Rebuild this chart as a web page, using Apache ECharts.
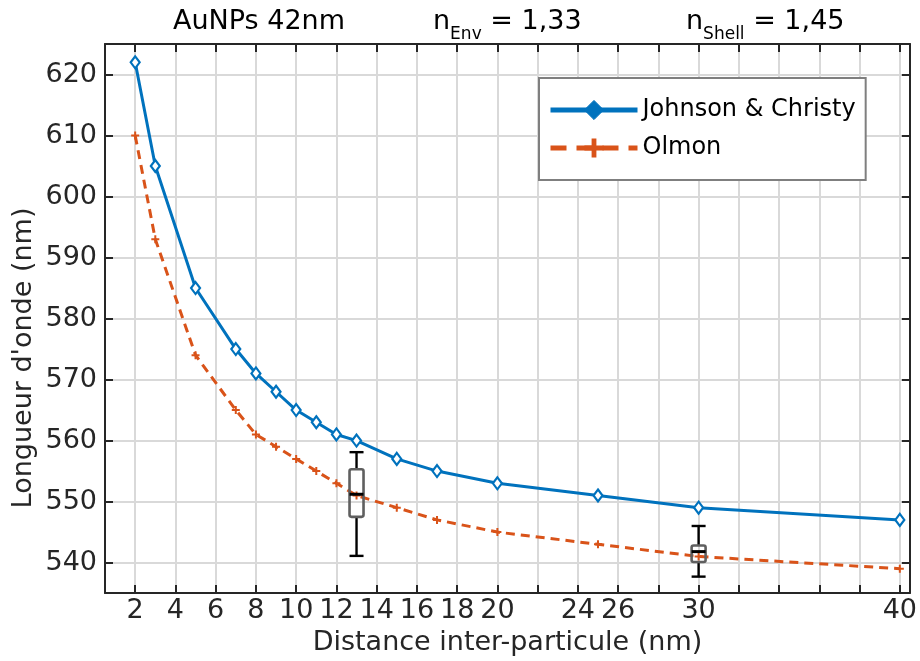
<!DOCTYPE html>
<html><head><meta charset="utf-8">
<script src="https://cdn.jsdelivr.net/npm/echarts@6/dist/echarts.min.js"></script>
<style>html,body{margin:0;padding:0;background:#fff}#c{width:920px;height:661px}</style>
</head><body><div id="c"></div>
<script>
// ---- data ----
const distances = [2, 3, 5, 7, 8, 9, 10, 11, 12, 13, 15, 17, 20, 25, 30, 40];
const johnsonChristy = [622, 605, 585, 575, 571, 568, 565, 563, 561, 560, 557, 555, 553, 551, 549, 547];
const olmon = [610, 593, 574, 565, 561, 559, 557, 555, 553, 551, 549, 547, 545, 543, 541, 539];
const boxX = [13, 30];
const boxMin = [541.1, 537.7];
const boxQ1 = [547.5, 540.1];
const boxMedian = [551.2, 541.8];
const boxQ3 = [555.3, 542.8];
const boxMax = [558.1, 546.0];
const xTicks = [2, 4, 6, 8, 10, 12, 14, 16, 18, 20, 22, 24, 26, 28, 30, 32, 34, 36, 38, 40];
const xTickLabels = [2, 4, 6, 8, 10, 12, 14, 16, 18, 20, 24, 26, 30, 40];
const yTicks = [540, 550, 560, 570, 580, 590, 600, 610, 620];
const seriesNames = ['Johnson & Christy', 'Olmon'];

const FONT = 'DejaVu Sans';
const TXT = '#262626';
const AX = '#262626';
const GRIDC = '#d9d9d9';
const BLUE = '#0072BD';
const ORANGE = '#D95319';

const jcData = distances.map((d, i) => [d, johnsonChristy[i]]);
const olData = distances.map((d, i) => [d, olmon[i]]);
const boxData = boxX.map((x, i) => [x, boxMin[i], boxQ1[i], boxMedian[i], boxQ3[i], boxMax[i]]);

const chart = echarts.init(document.getElementById('c'), null, {renderer: 'canvas'});

const xBase = {
  type: 'value', min: 0.5, max: 40.5,
  axisLine: {show: true, onZero: false, lineStyle: {color: AX, width: 2}},
  axisTick: {show: true, inside: true, length: 8, customValues: xTicks, lineStyle: {color: AX, width: 2}},
};
const yBase = {
  type: 'value', min: 535, max: 625,
  axisLine: {show: true, onZero: false, lineStyle: {color: AX, width: 2}},
  axisTick: {show: true, inside: true, length: 8, customValues: yTicks, lineStyle: {color: AX, width: 2}},
};

const option = {
  animation: false,
  backgroundColor: '#fff',
  textStyle: {fontFamily: FONT},
  grid: {left: 105, right: 7, top: 44, bottom: 66, containLabel: false},
  xAxis: [
    Object.assign({}, xBase, {
      position: 'bottom',
      name: 'Distance inter-particule (nm)', nameLocation: 'middle', nameGap: 31,
      nameTextStyle: {fontFamily: FONT, fontSize: 27, color: TXT},
      axisLabel: {show: true, customValues: xTickLabels, margin: 4, fontFamily: FONT, fontSize: 27, color: TXT},
      splitLine: {show: true, lineStyle: {color: GRIDC, width: 2}}
    }),
    Object.assign({}, xBase, {
      position: 'top',
      axisLabel: {show: false},
      splitLine: {show: false}
    })
  ],
  yAxis: [
    Object.assign({}, yBase, {
      position: 'left',
      axisLabel: {show: true, customValues: yTicks, margin: 8, fontFamily: FONT, fontSize: 27, color: TXT},
      splitLine: {show: true, lineStyle: {color: GRIDC, width: 2}}
    }),
    Object.assign({}, yBase, {
      position: 'right',
      axisLabel: {show: false},
      splitLine: {show: false}
    })
  ],
  legend: {
    orient: 'vertical', left: 539, top: 78,
    backgroundColor: '#fff', borderColor: '#7f7f7f', borderWidth: 2,
    padding: [20, 10, 20, 9],
    itemWidth: 87, itemHeight: 24, itemGap: 14,
    textStyle: {fontFamily: FONT, fontSize: 24, color: '#000'},
    lineStyle: {width: 5},
    data: [
      {name: seriesNames[0], itemStyle: {color: BLUE, borderColor: BLUE, borderWidth: 1}},
      {name: seriesNames[1], lineStyle: {type: [16, 10], width: 5}}
    ]
  },
  graphic: [
    {type: 'text', left: 173, top: 8, style: {text: 'AuNPs 42nm', fontFamily: FONT, fontSize: 27, fill: '#000'}},
    {type: 'text', left: 433, top: 8, style: {
      text: '{m|n}{s|Env}{m| = 1,33}', fontFamily: FONT, fill: '#000',
      rich: {m: {fontSize: 27, fontFamily: FONT, verticalAlign: 'top', lineHeight: 35, fill: '#000'},
             s: {fontSize: 17, fontFamily: FONT, verticalAlign: 'bottom', lineHeight: 20, fill: '#000'}}
    }},
    {type: 'text', left: 686, top: 8, style: {
      text: '{m|n}{s|Shell}{m| = 1,45}', fontFamily: FONT, fill: '#000',
      rich: {m: {fontSize: 27, fontFamily: FONT, verticalAlign: 'top', lineHeight: 35, fill: '#000'},
             s: {fontSize: 17, fontFamily: FONT, verticalAlign: 'bottom', lineHeight: 20, fill: '#000'}}
    }},
    {type: 'text', x: 24, y: 358, rotation: Math.PI / 2, style: {
      text: "Longueur d'onde (nm)", fontFamily: FONT, fontSize: 27, fill: TXT, align: 'center', verticalAlign: 'middle'
    }}
  ],
  series: [
    {
      name: seriesNames[0], type: 'line', data: jcData,
      xAxisIndex: 0, yAxisIndex: 0,
      lineStyle: {color: BLUE, width: 3},
      symbol: 'diamond', symbolSize: [9, 12],
      itemStyle: {color: '#fff', borderColor: BLUE, borderWidth: 2.2},
      z: 3
    },
    {
      name: seriesNames[1], type: 'line', data: olData,
      xAxisIndex: 0, yAxisIndex: 0,
      lineStyle: {color: ORANGE, width: 3, type: [9, 6]},
      symbol: 'path://M-1,-4H1V-1H4V1H1V4H-1V1H-4V-1H-1Z', symbolSize: 8,
      itemStyle: {color: ORANGE},
      z: 3
    },
    {
      name: 'boxes', type: 'custom', data: boxData,
      xAxisIndex: 0, yAxisIndex: 0, z: 4,
      encode: {x: 0, y: [1, 2, 3, 4, 5]},
      renderItem: function (params, api) {
        const x = api.value(0);
        const pMin = api.coord([x, api.value(1)]);
        const pQ1 = api.coord([x, api.value(2)]);
        const pMed = api.coord([x, api.value(3)]);
        const pQ3 = api.coord([x, api.value(4)]);
        const pMax = api.coord([x, api.value(5)]);
        const cx = pMin[0];
        const hw = 7;
        const blk = {stroke: '#000', lineWidth: 2.4, fill: null};
        return {type: 'group', children: [
          {type: 'line', shape: {x1: cx, y1: pMax[1], x2: cx, y2: pQ3[1]}, style: blk},
          {type: 'line', shape: {x1: cx, y1: pQ1[1], x2: cx, y2: pMin[1]}, style: blk},
          {type: 'line', shape: {x1: cx - hw, y1: pMax[1], x2: cx + hw, y2: pMax[1]}, style: blk},
          {type: 'line', shape: {x1: cx - hw, y1: pMin[1], x2: cx + hw, y2: pMin[1]}, style: blk},
          {type: 'rect', shape: {x: cx - hw, y: pQ3[1], width: 2 * hw, height: pQ1[1] - pQ3[1], r: 2},
           style: {stroke: '#5f5f5f', lineWidth: 2.6, fill: null}},
          {type: 'line', shape: {x1: cx - hw, y1: pMed[1], x2: cx + hw, y2: pMed[1]}, style: {stroke: '#000', lineWidth: 3}}
        ]};
      }
    }
  ]
};
chart.setOption(option);
</script>
</body></html>
